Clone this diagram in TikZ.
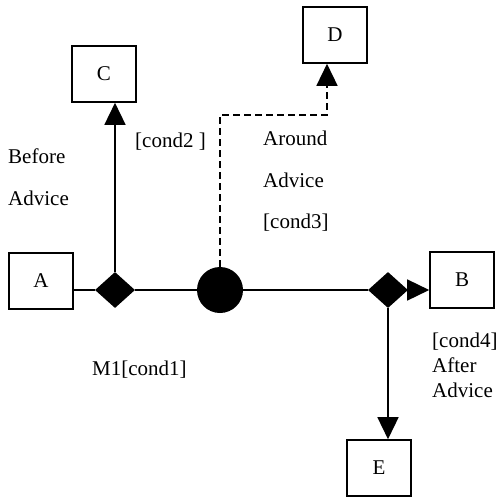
\documentclass[tikz,border=0pt]{standalone}
\usepackage{fontspec}
\setmainfont{Liberation Serif}
\usepackage{tikz}
\usetikzlibrary{shapes.geometric, arrows.meta}
\tikzset{
	block/.style={draw, line width=1.6pt, minimum width=64pt, minimum height=56pt, inner sep=0pt},
	joint/.style={diamond, fill=black, minimum width=40pt, minimum height=36pt, inner sep=0pt},
	around/.style={circle, fill=black, minimum size=46pt, inner sep=0pt},
	note/.style={anchor=base west, inner sep=0pt},
	link/.style={line width=1.5pt},
	tip/.style={-{Triangle[length=22pt,width=21pt]}}
}

\begin{document}
\begin{tikzpicture}[x=1pt,y=-1pt,font=\fontsize{21}{25}\selectfont]
		\useasboundingbox (0,0) rectangle (503,501);
		% boxes
		\node [block] (A) at (41,281) {A};
		\node [block] (B) at (462,280) {B};
		\node [block] (C) at (104,74) {C};
		\node [block] (D) at (335,35) {D};
		\node [block] (E) at (379,468) {E};
		% joints on the main line
		\node [joint] (d1) at (115,290) {};
		\node [around] (c1) at (220,290) {};
		\node [joint] (d2) at (388,290) {};
		\coordinate (dturn) at (327,115);
		% main line
		\draw [link] (d1 -| A.east) -- (d1.west);
		\draw [link] (d1.east) -- (c1.west);
		\draw [link] (c1.east) -- (d2.west);
		\draw [link,tip] (d2.east) -- (d2 -| B.west);
		% branches
		\draw [link,tip] (d1.north) -- (d1 |- C.south);
		\draw [link,tip] (d2.south) -- (d2 |- E.north);
		\draw [link,tip,dash pattern=on 7pt off 4pt] (c1.north) |- (dturn) -- (dturn |- D.south);
		% labels
		\node [note] (t1) at (8,163) {Before};
		\node [note] (t2) at (8,205) {Advice};
		\node [note] (t3) at (135,147) {[cond2 ]};
		\node [note] (t4) at (263,145) {Around};
		\node [note] (t5) at (263,187) {Advice};
		\node [note] (t6) at (263,228) {[cond3]};
		\node [note] (t7) at (92,375) {M1[cond1]};
		\node [note] (t8) at (432,347) {[cond4]};
		\node [note] (t9) at (432,372) {After};
		\node [note] (t10) at (432,397) {Advice};
	\end{tikzpicture}
\end{document}
